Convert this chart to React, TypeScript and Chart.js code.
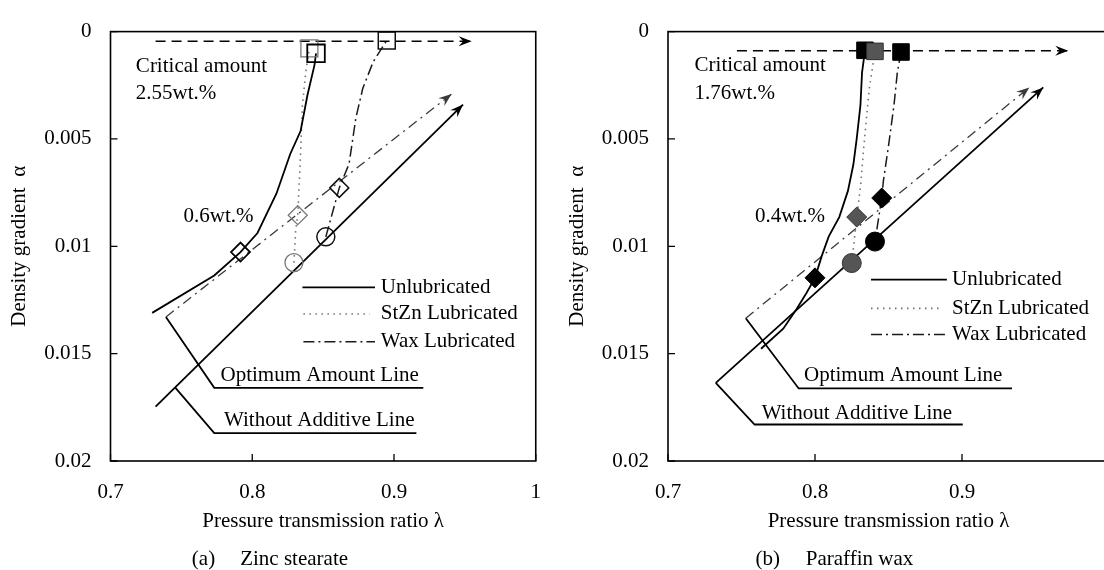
import React, { useEffect, useRef } from 'react';
import { Chart, registerables } from 'chart.js';

Chart.register(...registerables);

const FONT = '"Liberation Serif", "Times New Roman", serif';

// ---------- shared axis labels ----------
const xTickLabels = ['0.7', '0.8', '0.9', '1'];
const yTickLabels = ['0', '0.005', '0.01', '0.015', '0.02'];

// ---------- panel (a) Zinc stearate ----------
const aUnlubX = [0.7294, 0.7732, 0.7917, 0.8037, 0.8171, 0.8268, 0.8341, 0.839, 0.8439, 0.845];
const aUnlubY = [0.0131, 0.01136, 0.01027, 0.00938, 0.00754, 0.0057, 0.00463, 0.00294, 0.00156, 0.00101];
const aStznX = [0.8294, 0.8306, 0.8321, 0.8341, 0.8354, 0.8378, 0.8403];
const aStznY = [0.01076, 0.00929, 0.00855, 0.0057, 0.0034, 0.00187, 0.00078];
const aWaxX = [0.8519, 0.8614, 0.8683, 0.8731, 0.878, 0.8853, 0.8949];
const aWaxY = [0.00956, 0.00728, 0.00616, 0.00402, 0.00264, 0.00141, 0.00041];
const aOptimumX = [0.7391, 0.9406];
const aOptimumY = [0.01329, 0.00291];
const aWithoutX = [0.7318, 0.9487];
const aWithoutY = [0.01747, 0.0034];
const aCriticalX = [0.7318, 0.9548];
const aCriticalY = [0.00045, 0.00045];
const aOptCalloutX = [0.7391, 0.7732, 0.9207];
const aOptCalloutY = [0.01329, 0.01659, 0.01659];
const aWithoutCalloutX = [0.7457, 0.7732, 0.9158];
const aWithoutCalloutY = [0.01658, 0.0187, 0.0187];
const aUnlubMarkX = [0.7917, 0.845];
const aUnlubMarkY = [0.01027, 0.00101];
const aStznMarkX = [0.8294, 0.8321, 0.8403];
const aStznMarkY = [0.01076, 0.00855, 0.00078];
const aWaxMarkX = [0.8519, 0.8614, 0.8949];
const aWaxMarkY = [0.00956, 0.00728, 0.00041];

// ---------- panel (b) Paraffin wax ----------
const bUnlubX = [0.834, 0.832, 0.8309, 0.8284, 0.8261, 0.8224, 0.8165, 0.8093, 0.8045, 0.8, 0.7943, 0.7875, 0.7784, 0.7633];
const bUnlubY = [0.00087, 0.00191, 0.00344, 0.00497, 0.00619, 0.00742, 0.00864, 0.00955, 0.01047, 0.01147, 0.01216, 0.01292, 0.01384, 0.01477];
const bStznX = [0.8408, 0.8369, 0.8333, 0.8309, 0.8284, 0.8265, 0.825];
const bStznY = [0.00092, 0.00267, 0.00528, 0.00726, 0.00864, 0.00986, 0.01078];
const bWaxX = [0.8585, 0.856, 0.8537, 0.8501, 0.8465, 0.8454, 0.8408];
const bWaxY = [0.00095, 0.00191, 0.00344, 0.00528, 0.00696, 0.00775, 0.00978];
const bOptimumX = [0.7529, 0.9458];
const bOptimumY = [0.01335, 0.0026];
const bWithoutX = [0.7325, 0.9553];
const bWithoutY = [0.01636, 0.0026];
const bCriticalX = [0.7469, 0.9723];
const bCriticalY = [0.00089, 0.00089];
const bOptCalloutX = [0.7529, 0.7889, 0.934];
const bOptCalloutY = [0.01335, 0.01662, 0.01662];
const bWithoutCalloutX = [0.7325, 0.7589, 0.9005];
const bWithoutCalloutY = [0.01636, 0.0183, 0.0183];
const bUnlubMarkX = [0.8, 0.834];
const bUnlubMarkY = [0.01147, 0.00087];
const bStznMarkX = [0.825, 0.8284, 0.8408];
const bStznMarkY = [0.01078, 0.00864, 0.00092];
const bWaxMarkX = [0.8408, 0.8454, 0.8585];
const bWaxMarkY = [0.00978, 0.00775, 0.00095];

// ---------- styles ----------
const ST: any = {
  unlub: { color: '#000', width: 1.8, dash: [] },
  stzn: { color: '#707070', width: 1.6, dash: [1.5, 4.5] },
  wax: { color: '#1a1a1a', width: 1.5, dash: [11, 4, 2, 4] },
  optimum: { color: '#3a3a3a', width: 1.3, dash: [10, 5, 2, 5] },
  without: { color: '#000', width: 1.8, dash: [] },
  critical: { color: '#000', width: 1.4, dash: [10, 6] },
  callout: { color: '#000', width: 1.8, dash: [] },
};

const mk = (xs: number[], ys: number[]) => xs.map((x, i) => ({ x, y: ys[i] }));

function line(xs: number[], ys: number[], st: any, arrow = false) {
  return {
    data: mk(xs, ys),
    showLine: true,
    pointRadius: 0,
    pointHoverRadius: 0,
    borderColor: st.color,
    backgroundColor: st.color,
    borderWidth: st.width,
    borderDash: st.dash,
    fill: false,
    tension: 0,
    arrow,
  };
}

function markers(xs: number[], ys: number[], shapes: string[], radii: number[], stroke: string, fill: string, width: number) {
  return {
    data: mk(xs, ys),
    showLine: false,
    pointStyle: shapes,
    pointRadius: radii,
    pointHoverRadius: radii,
    pointBorderColor: stroke,
    pointBackgroundColor: fill,
    pointBorderWidth: width,
    borderColor: stroke,
    backgroundColor: fill,
  };
}

const CLEAR = 'rgba(0,0,0,0)';

const panelA = {
  left: 0,
  canvasW: 560,
  yWidth: 110.5,
  padTop: 26,
  padRight: 10,
  yTitlePad: 7,
  datasets: [
    markers(aUnlubMarkX, aUnlubMarkY, ['rectRot', 'rect'], [9.5, 12.4], '#000', CLEAR, 1.8),
    markers(aStznMarkX, aStznMarkY, ['circle', 'rectRot', 'rect'], [9, 9.5, 12], '#777', CLEAR, 1.3),
    markers(aWaxMarkX, aWaxMarkY, ['circle', 'rectRot', 'rect'], [9, 9.5, 12], '#111', CLEAR, 1.5),
    line(aUnlubX, aUnlubY, ST.unlub),
    line(aStznX, aStznY, ST.stzn),
    line(aWaxX, aWaxY, ST.wax),
    line(aOptimumX, aOptimumY, ST.optimum, true),
    line(aWithoutX, aWithoutY, ST.without, true),
    line(aCriticalX, aCriticalY, ST.critical, true),
    line(aOptCalloutX, aOptCalloutY, ST.callout),
    line(aWithoutCalloutX, aWithoutCalloutY, ST.callout),
  ],
  texts: [
    { text: 'Critical amount', x: 0.7179, y: 0.00161 },
    { text: '2.55wt.%', x: 0.7179, y: 0.0029 },
    { text: '0.6wt.%', x: 0.7515, y: 0.0086 },
    { text: 'Optimum Amount Line', x: 0.7776, y: 0.016 },
    { text: 'Without Additive Line', x: 0.7801, y: 0.01811 },
  ],
  legend: [
    { label: 'Unlubricated', st: ST.unlub, x1: 0.8354, x2: 0.8866, xt: 0.8907, y: 0.01191 },
    { label: 'StZn Lubricated', st: ST.stzn, x1: 0.8361, x2: 0.8829, xt: 0.8907, y: 0.01315 },
    { label: 'Wax Lubricated', st: ST.wax, x1: 0.8361, x2: 0.8866, xt: 0.8907, y: 0.01444 },
  ],
  caption: [
    { text: '(a)', x: 0.7574 },
    { text: 'Zinc stearate', x: 0.7915 },
  ],
};

const panelB = {
  left: 560,
  canvasW: 600,
  yWidth: 108,
  padTop: 25,
  padRight: 51,
  yTitlePad: 5,
  datasets: [
    markers(bStznMarkX, bStznMarkY, ['circle', 'rectRot', 'rect'], [9.5, 10, 11.7], '#333', '#555', 1),
    markers(bUnlubMarkX, bUnlubMarkY, ['rectRot', 'rect'], [10, 11.7], '#000', '#000', 1),
    markers(bWaxMarkX, bWaxMarkY, ['circle', 'rectRot', 'rect'], [9.5, 10, 11.7], '#000', '#000', 1),
    line(bUnlubX, bUnlubY, ST.unlub),
    line(bStznX, bStznY, ST.stzn),
    line(bWaxX, bWaxY, ST.wax),
    line(bOptimumX, bOptimumY, ST.optimum, true),
    line(bWithoutX, bWithoutY, ST.without, true),
    line(bCriticalX, bCriticalY, ST.critical, true),
    line(bOptCalloutX, bOptCalloutY, ST.callout),
    line(bWithoutCalloutX, bWithoutCalloutY, ST.callout),
  ],
  texts: [
    { text: 'Critical amount', x: 0.7181, y: 0.0016 },
    { text: '1.76wt.%', x: 0.7181, y: 0.00289 },
    { text: '0.4wt.%', x: 0.7592, y: 0.00862 },
    { text: 'Optimum Amount Line', x: 0.7925, y: 0.01602 },
    { text: 'Without Additive Line', x: 0.7637, y: 0.0178 },
  ],
  legend: [
    { label: 'Unlubricated', st: ST.unlub, x1: 0.8381, x2: 0.8897, xt: 0.8932, y: 0.01155 },
    { label: 'StZn Lubricated', st: ST.stzn, x1: 0.8381, x2: 0.8848, xt: 0.8932, y: 0.01289 },
    { label: 'Wax Lubricated', st: ST.wax, x1: 0.8381, x2: 0.8884, xt: 0.8932, y: 0.01411 },
  ],
  caption: [
    { text: '(b)', x: 0.7596 },
    { text: 'Paraffin wax', x: 0.7937 },
  ],
};

function arrowHead(ctx: CanvasRenderingContext2D, x0: number, y0: number, x1: number, y1: number, color: string) {
  const ang = Math.atan2(y1 - y0, x1 - x0);
  const L = 13;
  const W = 5;
  ctx.save();
  ctx.translate(x1, y1);
  ctx.rotate(ang);
  ctx.setLineDash([]);
  ctx.beginPath();
  ctx.moveTo(0, 0);
  ctx.lineTo(-L, -W);
  ctx.lineTo(-L * 0.65, 0);
  ctx.lineTo(-L, W);
  ctx.closePath();
  ctx.fillStyle = color;
  ctx.fill();
  ctx.restore();
}

function decor(cfg: any) {
  return {
    id: 'decor',
    afterDatasetsDraw(chart: any) {
      const { ctx, chartArea: a } = chart;
      const xs = chart.scales.x;
      const ys = chart.scales.y;
      const X = (v: number) => xs.getPixelForValue(v);
      const Y = (v: number) => ys.getPixelForValue(v);
      ctx.save();
      // arrow heads
      chart.data.datasets.forEach((ds: any) => {
        if (!ds.arrow) return;
        const d = ds.data;
        const p0 = d[d.length - 2];
        const p1 = d[d.length - 1];
        arrowHead(ctx, X(p0.x), Y(p0.y), X(p1.x), Y(p1.y), ds.borderColor);
      });
      // frame
      ctx.setLineDash([]);
      ctx.strokeStyle = '#000';
      ctx.lineWidth = 1.6;
      ctx.strokeRect(a.left, a.top, a.right - a.left, a.bottom - a.top);
      // inner tick marks
      ctx.lineWidth = 1.3;
      ctx.beginPath();
      xs.ticks.forEach((t: any) => {
        const px = X(t.value);
        ctx.moveTo(px, a.bottom);
        ctx.lineTo(px, a.bottom - 7);
      });
      ys.ticks.forEach((t: any) => {
        const py = Y(t.value);
        ctx.moveTo(a.left, py);
        ctx.lineTo(a.left + 7, py);
      });
      ctx.stroke();
      // annotation texts
      ctx.fillStyle = '#000';
      ctx.font = `21px ${FONT}`;
      ctx.textBaseline = 'middle';
      ctx.textAlign = 'left';
      cfg.texts.forEach((t: any) => ctx.fillText(t.text, X(t.x), Y(t.y)));
      // legend
      cfg.legend.forEach((e: any) => {
        ctx.strokeStyle = e.st.color;
        ctx.lineWidth = e.st.width;
        ctx.setLineDash(e.st.dash);
        ctx.beginPath();
        ctx.moveTo(X(e.x1), Y(e.y));
        ctx.lineTo(X(e.x2), Y(e.y));
        ctx.stroke();
        ctx.setLineDash([]);
        ctx.fillText(e.label, X(e.xt), Y(e.y));
      });
      // caption
      cfg.caption.forEach((c: any) => ctx.fillText(c.text, X(c.x), a.bottom + 98));
      ctx.restore();
    },
  };
}

function Panel({ cfg }: { cfg: any }) {
  const ref = useRef<HTMLCanvasElement>(null);
  useEffect(() => {
    if (!ref.current) return;
    const tickFont = { family: FONT, size: 21 };
    const chart = new Chart(ref.current, {
      type: 'scatter',
      data: { datasets: cfg.datasets },
      options: {
        responsive: false,
        animation: false,
        devicePixelRatio: 1,
        events: [],
        layout: { padding: { top: cfg.padTop, bottom: 36, left: 0, right: cfg.padRight } },
        plugins: { legend: { display: false }, tooltip: { enabled: false } },
        scales: {
          x: {
            type: 'linear',
            min: 0.7,
            max: 1.0,
            afterFit: (s: any) => {
              s.height = 73;
            },
            grid: { display: false, drawTicks: false },
            border: { display: false },
            ticks: {
              stepSize: 0.1,
              padding: 19,
              color: '#000',
              font: tickFont,
              maxRotation: 0,
              autoSkip: false,
              callback: (v: any) => xTickLabels[Math.round((Number(v) - 0.7) / 0.1)] ?? '',
            },
            title: {
              display: true,
              text: 'Pressure transmission ratio λ',
              color: '#000',
              font: tickFont,
              padding: { top: 0, bottom: 0 },
            },
          },
          y: {
            type: 'linear',
            reverse: true,
            min: 0,
            max: 0.02,
            afterFit: (s: any) => {
              s.width = cfg.yWidth;
            },
            grid: { display: false, drawTicks: false },
            border: { display: false },
            ticks: {
              stepSize: 0.005,
              padding: 19,
              color: '#000',
              font: tickFont,
              autoSkip: false,
              callback: (v: any) => yTickLabels[Math.round(Number(v) / 0.005)] ?? '',
            },
            title: {
              display: true,
              text: 'Density gradient  α',
              color: '#000',
              font: tickFont,
              padding: { top: cfg.yTitlePad, bottom: 0 },
            },
          },
        },
      } as any,
      plugins: [decor(cfg)],
    });
    return () => chart.destroy();
  }, [cfg]);
  return (
    <canvas
      ref={ref}
      width={cfg.canvasW}
      height={570}
      style={{ position: 'absolute', left: cfg.left, top: 0, width: cfg.canvasW, height: 570 }}
    />
  );
}

export default function App() {
  return (
    <div
      style={{
        position: 'absolute',
        left: 0,
        top: 0,
        width: 1104,
        height: 570,
        overflow: 'hidden',
        background: '#fff',
      }}
    >
      <Panel cfg={panelA} />
      <Panel cfg={panelB} />
    </div>
  );
}
